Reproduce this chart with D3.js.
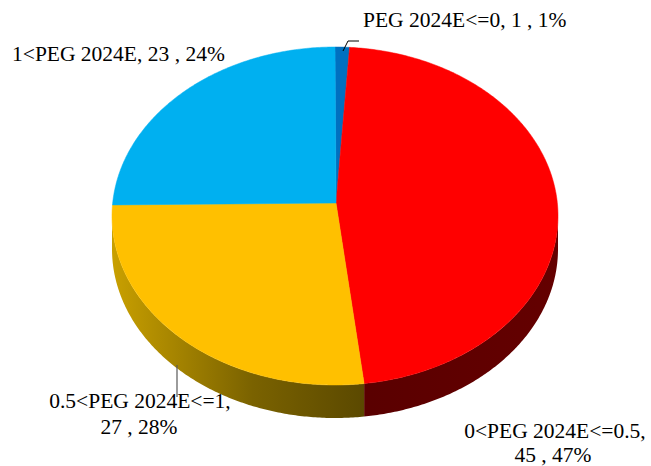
<!DOCTYPE html>
<html lang="en">
<head>
<meta charset="UTF-8">
<title>PEG 2024E pie</title>
<style>
  body { margin: 0; padding: 0; background: #fff; }
  #chart { width: 651px; height: 466px; }
</style>
</head>
<body>
<div id="chart"></div>
<script src="https://d3js.org/d3.v7.min.js"></script>
<script>
    // data
    const categories = ["PEG 2024E<=0", "0<PEG 2024E<=0.5", "0.5<PEG 2024E<=1", "1<PEG 2024E"];
    const counts = [1, 45, 27, 23];
    const topColors = ["#0070C0", "#FF0000", "#FFC000", "#00B0F0"];

    const width = 651, height = 466;
    const cx = 335, cy = 216, rx = 223, ry = 169, depth = 33;
    const vertex = [336, 203];
    const fontFamily = "'Liberation Serif', 'Times New Roman', 'DejaVu Serif', serif";

    const svg = d3.select("#chart").append("svg")
        .attr("width", width)
        .attr("height", height);

    const defs = svg.append("defs");
    const gY = defs.append("linearGradient").attr("id", "sideYellow")
        .attr("gradientUnits", "userSpaceOnUse")
        .attr("x1", cx - rx).attr("x2", 368).attr("y1", 0).attr("y2", 0);
    gY.append("stop").attr("offset", "0%").attr("stop-color", "#C9A000");
    gY.append("stop").attr("offset", "55%").attr("stop-color", "#7A6200");
    gY.append("stop").attr("offset", "100%").attr("stop-color", "#5A4800");
    const gR = defs.append("linearGradient").attr("id", "sideRed")
        .attr("gradientUnits", "userSpaceOnUse")
        .attr("x1", 368).attr("x2", cx + rx).attr("y1", 0).attr("y2", 0);
    gR.append("stop").attr("offset", "0%").attr("stop-color", "#5A0000");
    gR.append("stop").attr("offset", "100%").attr("stop-color", "#640000");
    const sideFills = ["#003A66", "url(#sideRed)", "url(#sideYellow)", "#005A7A"];

    const total = d3.sum(counts);
    const pie = d3.pie().sort(null).value(d => d)(counts);

    const pt = (a, dy = 0) => [cx + rx * Math.sin(a), cy - ry * Math.cos(a) + dy];

    function arcPoints(a0, a1, dy) {
        const n = Math.max(2, Math.ceil((a1 - a0) / 0.01));
        return d3.range(n + 1).map(i => pt(a0 + (a1 - a0) * i / n, dy));
    }

    // sides (front half only)
    pie.forEach((d, i) => {
        const s = Math.max(d.startAngle, Math.PI / 2);
        const e = Math.min(d.endAngle, 3 * Math.PI / 2);
        if (e <= s) return;
        const pts = arcPoints(s, e, 0).concat(arcPoints(s, e, depth).reverse());
        svg.append("path")
            .attr("d", d3.line()(pts) + "Z")
            .attr("fill", sideFills[i]);
    });

    // top faces
    pie.forEach((d, i) => {
        const pts = [vertex].concat(arcPoints(d.startAngle, d.endAngle, 0));
        svg.append("path")
            .attr("d", d3.line()(pts) + "Z")
            .attr("fill", topColors[i])
            .attr("stroke", topColors[i])
            .attr("stroke-width", 0.5);
    });

    const pct = counts.map(c => Math.round(c / total * 100) + "%");

    // leader lines
    svg.append("path")
        .attr("d", "M343,51 L348,41 L359,41")
        .attr("fill", "none").attr("stroke", "#000").attr("stroke-width", 1);
    svg.append("line")
        .attr("x1", 177).attr("x2", 177).attr("y1", 365).attr("y2", 397)
        .attr("stroke", "#595959").attr("stroke-width", 1.2);

    const label = () => svg.append("text")
        .attr("font-family", fontFamily)
        .attr("font-size", 21.5)
        .attr("fill", "#000");

    // labels
    label().attr("x", 363).attr("y", 27)
        .text(categories[0] + ", " + counts[0] + " , " + pct[0]);

    label().attr("x", 12).attr("y", 61)
        .text(categories[3] + ", " + counts[3] + " , " + pct[3]);

    const t2 = label().attr("text-anchor", "middle");
    t2.append("tspan").attr("x", 140).attr("y", 408).text(categories[2] + ",");
    t2.append("tspan").attr("x", 139).attr("y", 434).text(counts[2] + " , " + pct[2]);

    const t1 = label().attr("text-anchor", "middle");
    t1.append("tspan").attr("x", 555).attr("y", 438).text(categories[1] + ",");
    t1.append("tspan").attr("x", 553).attr("y", 462).text(counts[1] + " , " + pct[1]);
</script>
</body>
</html>
